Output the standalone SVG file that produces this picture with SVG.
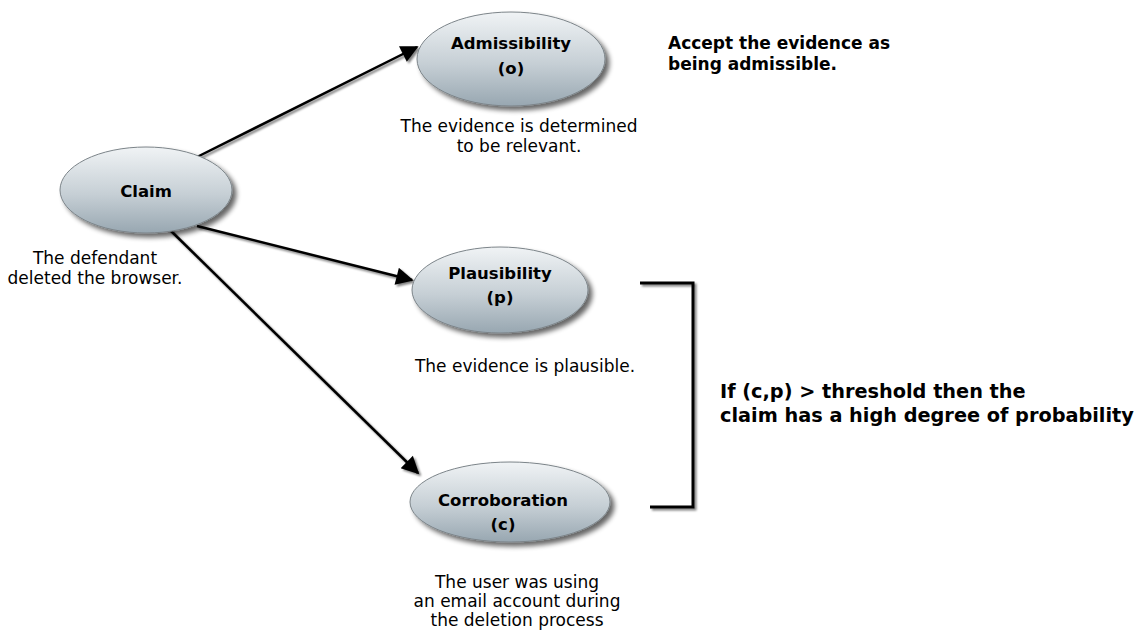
<svg xmlns="http://www.w3.org/2000/svg" width="1139" height="636" viewBox="0 0 1139 636">
<defs>
<linearGradient id="g" x1="0" y1="0" x2="0" y2="1">
<stop offset="0" stop-color="#f0f3f5"/>
<stop offset="0.55" stop-color="#c6cfd5"/>
<stop offset="1" stop-color="#98a7b1"/>
</linearGradient>
<filter id="sh" x="-20%" y="-20%" width="150%" height="160%">
<feGaussianBlur in="SourceAlpha" stdDeviation="2.5"/>
<feOffset dx="4" dy="4" result="b"/>
<feComponentTransfer><feFuncA type="linear" slope="0.6"/></feComponentTransfer>
<feMerge><feMergeNode/><feMergeNode in="SourceGraphic"/></feMerge>
</filter>
<filter id="lsh" x="-10%" y="-10%" width="130%" height="130%">
<feGaussianBlur in="SourceAlpha" stdDeviation="1"/>
<feOffset dx="2" dy="2"/>
<feComponentTransfer><feFuncA type="linear" slope="0.5"/></feComponentTransfer>
<feMerge><feMergeNode/><feMergeNode in="SourceGraphic"/></feMerge>
</filter>
<marker id="ah" viewBox="0 0 10 10" refX="9" refY="5" markerWidth="9" markerHeight="7" markerUnits="strokeWidth" orient="auto">
<path d="M0,0 L10,5 L0,10 z" fill="#000"/>
</marker>
</defs>
<style>
.node{fill:url(#g);stroke:#7c8489;stroke-width:1;filter:url(#sh)}
.lab{font-family:"DejaVu Sans",Verdana,sans-serif;font-size:16.5px;font-weight:bold;fill:#000;text-anchor:middle}
.desc{font-family:"DejaVu Sans",Verdana,sans-serif;font-size:17px;fill:#000;text-anchor:middle}
.note{font-family:"DejaVu Sans",Verdana,sans-serif;font-weight:bold;fill:#000}
.conn{stroke:#000;stroke-width:2.5;fill:none;marker-end:url(#ah)}
</style>
<g id="connectors" filter="url(#lsh)">
<line class="conn" x1="197" y1="157" x2="417" y2="47"/>
<line class="conn" x1="197" y1="226" x2="412" y2="280"/>
<line class="conn" x1="168" y1="228" x2="418" y2="473"/>
</g>
<g id="claim">
<ellipse class="node" cx="146" cy="190" rx="86" ry="43"/>
<text class="lab" x="146" y="197">Claim</text>
<text class="desc" x="95" y="264">The defendant</text>
<text class="desc" x="95" y="284">deleted the browser.</text>
</g>
<g id="admissibility">
<ellipse class="node" cx="511" cy="59" rx="94" ry="47"/>
<text class="lab" x="511" y="49">Admissibility</text>
<text class="lab" x="511" y="74">(o)</text>
<text class="desc" x="519" y="132">The evidence is determined</text>
<text class="desc" x="519" y="152">to be relevant.</text>
</g>
<g id="accept-note">
<text class="note" font-size="17" x="668" y="49">Accept the evidence as</text>
<text class="note" font-size="17" x="668" y="70">being admissible.</text>
</g>
<g id="plausibility">
<ellipse class="node" cx="500" cy="290" rx="88" ry="43"/>
<text class="lab" x="500" y="279">Plausibility</text>
<text class="lab" x="500" y="303">(p)</text>
<text class="desc" x="525" y="372">The evidence is plausible.</text>
</g>
<g id="corroboration">
<ellipse class="node" cx="510" cy="502" rx="100" ry="40"/>
<text class="lab" x="503" y="506">Corroboration</text>
<text class="lab" x="503" y="530">(c)</text>
<text class="desc" x="517" y="588">The user was using</text>
<text class="desc" x="517" y="607">an email account during</text>
<text class="desc" x="517" y="626">the deletion process</text>
</g>
<g id="bracket" filter="url(#lsh)">
<polyline points="640,283 693,283 693,507 650,507" fill="none" stroke="#000" stroke-width="3"/>
</g>
<g id="threshold-note">
<text class="note" font-size="19.3" x="720" y="398">If (c,p) &gt; threshold then the</text>
<text class="note" font-size="19.3" x="720" y="422">claim has a high degree of probability</text>
</g>
</svg>
